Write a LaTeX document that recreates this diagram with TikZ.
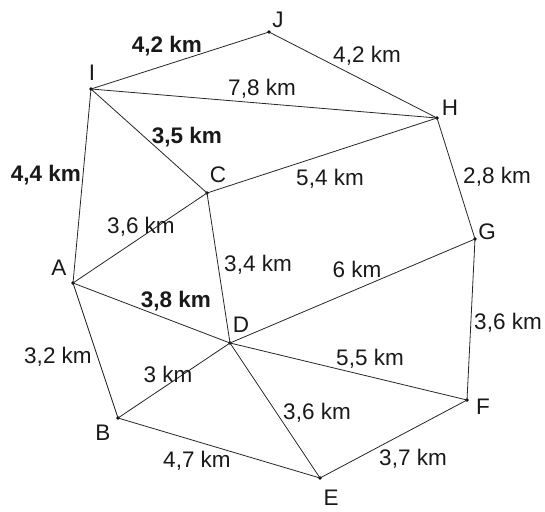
\documentclass[tikz,border=0pt]{standalone}
\usepackage{fontspec}
\setmainfont{Liberation Sans}
\begin{document}
\begin{tikzpicture}[x=1pt,y=-1pt,
  pt/.style={circle,fill=black,inner sep=0pt,minimum size=3.6pt},
  edge/.style={line width=0.8pt,draw=black!85},
  lbl/.style={font=\fontsize{22.5}{24}\selectfont,inner sep=0pt,text=black!90},
  blbl/.style={lbl,font=\fontsize{22.5}{24}\selectfont\bfseries},
  vtx/.style={font=\fontsize{22.5}{24}\selectfont,inner sep=0pt,text=black!90}]
\useasboundingbox (0,0) rectangle (545,511);
% points
\node[pt] (J) at (269,32) {};
\node[pt] (I) at (91,89) {};
\node[pt] (H) at (437,118) {};
\node[pt] (C) at (207,193) {};
\node[pt] (G) at (475,239) {};
\node[pt] (A) at (73,283) {};
\node[pt] (D) at (230,343) {};
\node[pt] (F) at (467,400) {};
\node[pt] (B) at (118,418) {};
\node[pt] (E) at (320,478) {};
% vertex names
\node[vtx] (lJ) at (278,20) {J};
\node[vtx] (lI) at (92,73) {I};
\node[vtx] (lH) at (450,108) {H};
\node[vtx] (lC) at (218,175) {C};
\node[vtx] (lG) at (487,232) {G};
\node[vtx] (lA) at (59,268) {A};
\node[vtx] (lD) at (241,325) {D};
\node[vtx] (lF) at (483,407) {F};
\node[vtx] (lB) at (103,433) {B};
\node[vtx] (lE) at (331,498) {E};
% edges
\draw[edge] (I.center) -- (J.center);
\draw[edge] (J.center) -- (H.center);
\draw[edge] (I.center) -- (H.center);
\draw[edge] (I.center) -- (C.center);
\draw[edge] (I.center) -- (A.center);
\draw[edge] (C.center) -- (H.center);
\draw[edge] (C.center) -- (A.center);
\draw[edge] (C.center) -- (D.center);
\draw[edge] (A.center) -- (D.center);
\draw[edge] (A.center) -- (B.center);
\draw[edge] (B.center) -- (D.center);
\draw[edge] (B.center) -- (E.center);
\draw[edge] (D.center) -- (E.center);
\draw[edge] (D.center) -- (F.center);
\draw[edge] (D.center) -- (G.center);
\draw[edge] (H.center) -- (G.center);
\draw[edge] (G.center) -- (F.center);
\draw[edge] (F.center) -- (E.center);
% distance labels
\node[blbl] (dIJ) at (167,46) {4,2 km};
\node[lbl] (dJH) at (367,56) {4,2 km};
\node[lbl] (dIH) at (262,89) {7,8 km};
\node[blbl] (dIC) at (187,137) {3,5 km};
\node[lbl] (dCH) at (330,179) {5,4 km};
\node[lbl] (dHG) at (497,177) {2,8 km};
\node[blbl] (dIA) at (46,175) {4,4 km};
\node[lbl] (dAC) at (141,227) {3,6 km};
\node[lbl] (dCD) at (258,265) {3,4 km};
\node[blbl] (dAD) at (176,301) {3,8 km};
\node[lbl] (dAB) at (58,357) {3,2 km};
\node[lbl] (dBD) at (168,374) {3 km};
\node[lbl] (dDG) at (357,269) {6 km};
\node[lbl] (dGF) at (508,323) {3,6 km};
\node[lbl] (dDF) at (370,359) {5,5 km};
\node[lbl] (dDE) at (317,413) {3,6 km};
\node[lbl] (dFE) at (413,459) {3,7 km};
\node[lbl] (dBE) at (197,461) {4,7 km};
\end{tikzpicture}
\end{document}
